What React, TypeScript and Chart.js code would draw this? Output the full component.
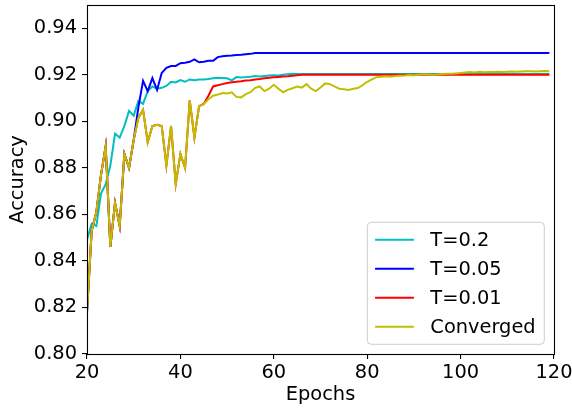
import { useEffect, useRef } from "react";
import { Chart, registerables } from "chart.js";

Chart.register(...registerables);

const epochs = [
  20, 21, 22, 23, 24, 25, 26, 27, 28, 29, 30, 31, 32, 33, 34, 35, 36, 37, 38, 39,
  40, 41, 42, 43, 44, 45, 46, 47, 48, 49, 50, 51, 52, 53, 54, 55, 56, 57, 58, 59,
  60, 61, 62, 63, 64, 65, 66, 67, 68, 69, 70, 71, 72, 73, 74, 75, 76, 77, 78, 79,
  80, 81, 82, 83, 84, 85, 86, 87, 88, 89, 90, 91, 92, 93, 94, 95, 96, 97, 98, 99,
  100, 101, 102, 103, 104, 105, 106, 107, 108, 109, 110, 111, 112, 113, 114, 115, 116, 117, 118, 119,
];

const t02 = [
  0.849, 0.856, 0.855, 0.869, 0.873, 0.881, 0.8947, 0.893, 0.898, 0.9045,
  0.9024, 0.9088, 0.9075, 0.913, 0.915, 0.914, 0.9144, 0.9152, 0.917, 0.9167,
  0.9177, 0.917, 0.918, 0.9177, 0.918, 0.918, 0.9182, 0.9185, 0.9187, 0.9186,
  0.9185, 0.9176, 0.919, 0.9188, 0.919, 0.9192, 0.9195, 0.9193, 0.9195, 0.9197,
  0.9198, 0.9197, 0.92, 0.9202, 0.9204, 0.9203, 0.9203, 0.9203, 0.9203, 0.9203,
  0.9203, 0.9203, 0.9203, 0.9203, 0.9203, 0.9203, 0.9203, 0.9203, 0.9203, 0.9203,
  0.9203, 0.9203, 0.9203, 0.9203, 0.9203, 0.9203, 0.9203, 0.9203, 0.9203, 0.9203,
  0.9203, 0.9203, 0.9203, 0.9203, 0.9203, 0.9203, 0.9203, 0.9203, 0.9203, 0.9203,
  0.9203, 0.9203, 0.9203, 0.9203, 0.9203, 0.9203, 0.9203, 0.9203, 0.9203, 0.9203,
  0.9203, 0.9203, 0.9203, 0.9203, 0.9203, 0.9203, 0.9203, 0.9203, 0.9203, 0.9203,
];

const t005 = [
  0.818, 0.853, 0.861, 0.877, 0.8893, 0.846, 0.865, 0.855, 0.886, 0.88,
  0.892, 0.906, 0.9174, 0.913, 0.9186, 0.9135, 0.9208, 0.923, 0.9238, 0.9238,
  0.925, 0.9252, 0.9256, 0.9266, 0.9254, 0.9256, 0.926, 0.926, 0.9276, 0.928,
  0.9282, 0.9283, 0.9285, 0.9286, 0.9288, 0.929, 0.9294, 0.9294, 0.9294, 0.9294,
  0.9294, 0.9294, 0.9294, 0.9294, 0.9294, 0.9294, 0.9294, 0.9294, 0.9294, 0.9294,
  0.9294, 0.9294, 0.9294, 0.9294, 0.9294, 0.9294, 0.9294, 0.9294, 0.9294, 0.9294,
  0.9294, 0.9294, 0.9294, 0.9294, 0.9294, 0.9294, 0.9294, 0.9294, 0.9294, 0.9294,
  0.9294, 0.9294, 0.9294, 0.9294, 0.9294, 0.9294, 0.9294, 0.9294, 0.9294, 0.9294,
  0.9294, 0.9294, 0.9294, 0.9294, 0.9294, 0.9294, 0.9294, 0.9294, 0.9294, 0.9294,
  0.9294, 0.9294, 0.9294, 0.9294, 0.9294, 0.9294, 0.9294, 0.9294, 0.9294, 0.9294,
];

const t001 = [
  0.818, 0.853, 0.861, 0.877, 0.8893, 0.846, 0.865, 0.855, 0.886, 0.88,
  0.892, 0.9015, 0.905, 0.891, 0.898, 0.8985, 0.898, 0.881, 0.898, 0.873,
  0.886, 0.88, 0.909, 0.893, 0.9065, 0.9075, 0.911, 0.915, 0.9155, 0.916,
  0.9165, 0.9168, 0.917, 0.9172, 0.9175, 0.9177, 0.918, 0.9182, 0.9185, 0.9187,
  0.9189, 0.9191, 0.9193, 0.9194, 0.9196, 0.9198, 0.92, 0.92, 0.92, 0.92,
  0.92, 0.92, 0.92, 0.92, 0.92, 0.92, 0.92, 0.92, 0.92, 0.92,
  0.92, 0.92, 0.92, 0.92, 0.92, 0.92, 0.92, 0.92, 0.92, 0.92,
  0.92, 0.92, 0.92, 0.92, 0.92, 0.92, 0.92, 0.92, 0.92, 0.92,
  0.92, 0.92, 0.92, 0.92, 0.92, 0.92, 0.92, 0.92, 0.92, 0.92,
  0.92, 0.92, 0.92, 0.92, 0.92, 0.92, 0.92, 0.92, 0.92, 0.92,
];

const converged = [
  0.818, 0.853, 0.861, 0.877, 0.8893, 0.846, 0.865, 0.855, 0.886, 0.88,
  0.892, 0.9015, 0.905, 0.891, 0.898, 0.8985, 0.898, 0.881, 0.898, 0.873,
  0.886, 0.88, 0.909, 0.893, 0.9065, 0.9075, 0.9095, 0.911, 0.9115, 0.9122,
  0.912, 0.9125, 0.9105, 0.9103, 0.9117, 0.9125, 0.9144, 0.915, 0.913, 0.914,
  0.9157, 0.914, 0.9125, 0.9135, 0.9142, 0.915, 0.9145, 0.916, 0.914, 0.913,
  0.9145, 0.9163, 0.916, 0.915, 0.914, 0.9138, 0.9135, 0.914, 0.9143, 0.9155,
  0.917, 0.918, 0.919, 0.9192, 0.9194, 0.9192, 0.9195, 0.9196, 0.9197, 0.9199,
  0.9198, 0.92, 0.9202, 0.9201, 0.92, 0.9201, 0.9203, 0.9205, 0.9204, 0.9206,
  0.9208, 0.921, 0.9212, 0.921, 0.9213, 0.9211, 0.9212, 0.9212, 0.9213, 0.9212,
  0.9213, 0.9214, 0.9213, 0.9214, 0.9215, 0.9215, 0.9214, 0.9215, 0.9216, 0.9215,
];

const seriesLabels = ["T=0.2", "T=0.05", "T=0.01", "Converged"];
const seriesColors = ["#00bfbf", "#0000ff", "#ff0000", "#bfbf00"];
const xTickValues = [20, 40, 60, 80, 100, 120];
const yTickValues = [0.8, 0.82, 0.84, 0.86, 0.88, 0.9, 0.92, 0.94];

const FONT_FAMILY = "'DejaVu Sans', sans-serif";
const FONT_SIZE = 19.4;

const frameAndLegend = {
  id: "frameAndLegend",
  afterDraw(chart: any) {
    const { ctx, chartArea } = chart;
    const { left, right, top, bottom } = chartArea;
    ctx.save();
    ctx.strokeStyle = "#000";
    ctx.lineWidth = 1.1;
    ctx.strokeRect(Math.round(left) + 0.5, Math.round(top) + 0.5, Math.round(right - left), Math.round(bottom - top));

    const pad = 0.5 * FONT_SIZE;
    const bw = 177;
    const bh = 122;
    const bx = right - pad - bw;
    const by = bottom - pad - bh;
    const r = 4;
    ctx.beginPath();
    ctx.moveTo(bx + r, by);
    ctx.lineTo(bx + bw - r, by);
    ctx.arcTo(bx + bw, by, bx + bw, by + r, r);
    ctx.lineTo(bx + bw, by + bh - r);
    ctx.arcTo(bx + bw, by + bh, bx + bw - r, by + bh, r);
    ctx.lineTo(bx + r, by + bh);
    ctx.arcTo(bx, by + bh, bx, by + bh - r, r);
    ctx.lineTo(bx, by + r);
    ctx.arcTo(bx, by, bx + r, by, r);
    ctx.closePath();
    ctx.fillStyle = "rgba(255,255,255,0.8)";
    ctx.fill();
    ctx.strokeStyle = "#cccccc";
    ctx.lineWidth = 1;
    ctx.stroke();

    ctx.font = `${FONT_SIZE}px ${FONT_FAMILY}`;
    ctx.textBaseline = "middle";
    ctx.textAlign = "left";
    const rowStart = by + 0.4 * FONT_SIZE + 9.7;
    const pitch = 29;
    seriesLabels.forEach((lab, i) => {
      const yy = rowStart + i * pitch;
      const x0 = bx + 0.4 * FONT_SIZE;
      ctx.strokeStyle = seriesColors[i];
      ctx.lineWidth = 2;
      ctx.beginPath();
      ctx.moveTo(x0, yy);
      ctx.lineTo(x0 + 2 * FONT_SIZE, yy);
      ctx.stroke();
      ctx.fillStyle = "#000";
      ctx.fillText(lab, x0 + 2.85 * FONT_SIZE, yy + 1);
    });
    ctx.restore();
  },
};

export default function App() {
  const canvasRef = useRef<HTMLCanvasElement | null>(null);

  useEffect(() => {
    document.body.style.margin = "0";
    const canvas = canvasRef.current;
    if (!canvas) return;
    const seriesData = [t02, t005, t001, converged];
    const chart = new Chart(canvas, {
      type: "line",
      data: {
        datasets: seriesData.map((vals, i) => ({
          label: seriesLabels[i],
          data: epochs.map((e, j) => ({ x: e, y: vals[j] })),
          borderColor: seriesColors[i],
          backgroundColor: seriesColors[i],
          borderWidth: 2,
          pointRadius: 0,
          tension: 0,
          fill: false,
          order: 3 - i,
        })),
      },
      options: {
        responsive: false,
        animation: false,
        layout: { padding: { top: 5, right: 18, left: 0, bottom: 0 } },
        plugins: {
          legend: { display: false },
          tooltip: { enabled: false },
        },
        scales: {
          x: {
            type: "linear",
            min: 20,
            max: 120,
            afterBuildTicks: (scale: any) => {
              scale.ticks = xTickValues.map((v) => ({ value: v }));
            },
            afterFit: (scale: any) => {
              scale.height = 54;
              scale.paddingLeft = 0;
              scale.paddingRight = 0;
            },
            grid: {
              display: true,
              drawOnChartArea: false,
              drawTicks: true,
              tickLength: 5,
              color: "#000",
              lineWidth: 1.1,
            },
            border: { display: false },
            ticks: {
              color: "#000",
              padding: 2,
              maxRotation: 0,
              font: { family: FONT_FAMILY, size: FONT_SIZE },
              callback: (v: any) => String(v),
            },
            title: {
              display: true,
              text: "Epochs",
              color: "#000",
              font: { family: FONT_FAMILY, size: FONT_SIZE },
              padding: { top: 0, bottom: 1 },
            },
          },
          y: {
            type: "linear",
            min: 0.8,
            max: 0.95,
            afterBuildTicks: (scale: any) => {
              scale.ticks = yTickValues.map((v) => ({ value: v }));
            },
            afterFit: (scale: any) => {
              scale.width = 87;
              scale.paddingTop = 0;
              scale.paddingBottom = 0;
            },
            grid: {
              display: true,
              drawOnChartArea: false,
              drawTicks: true,
              tickLength: 5,
              color: "#000",
              lineWidth: 1.1,
            },
            border: { display: false },
            ticks: {
              color: "#000",
              padding: 5,
              font: { family: FONT_FAMILY, size: FONT_SIZE },
              callback: (v: any) => Number(v).toFixed(2),
            },
            title: {
              display: true,
              text: "Accuracy",
              color: "#000",
              font: { family: FONT_FAMILY, size: FONT_SIZE },
              padding: { top: 6, bottom: 0 },
            },
          },
        },
      },
      plugins: [frameAndLegend],
    });
    return () => chart.destroy();
  }, []);

  return (
    <div style={{ position: "absolute", left: 0, top: 0, width: 572, height: 408 }}>
      <canvas ref={canvasRef} width={572} height={408} style={{ display: "block" }} />
    </div>
  );
}
